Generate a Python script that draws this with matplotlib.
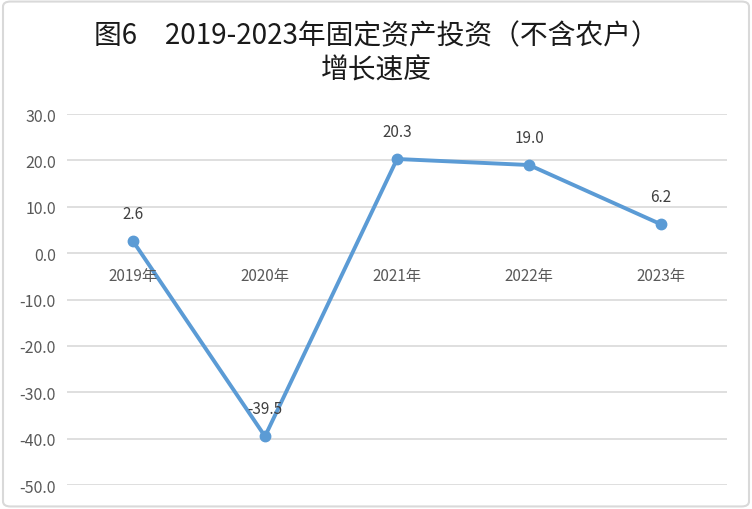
import matplotlib
matplotlib.use('Agg')
import matplotlib.pyplot as plt
from matplotlib.patches import FancyBboxPatch

plt.rcParams['font.family'] = ['Noto Sans CJK SC', 'DejaVu Sans']

years = ['2019年', '2020年', '2021年', '2022年', '2023年']
growth = [2.6, -39.5, 20.3, 19.0, 6.2]
yticks = [30, 20, 10, 0, -10, -20, -30, -40, -50]

fig = plt.figure(figsize=(7.52, 5.10), dpi=100)
ax = fig.add_axes([0.089, 0.047, 0.878, 0.7275])

x = list(range(len(years)))
ax.plot(x, growth, color='#5B9BD5', linewidth=2.8, marker='o', markersize=7.5, zorder=3)

for xi, v in zip(x, growth):
    ax.annotate('%.1f' % v, (xi, v), xytext=(0, 14), textcoords='offset points',
                ha='center', va='bottom', fontsize=11, color='#404040', zorder=4)

# category labels sit just under the zero line
for xi, lab in zip(x, years):
    ax.annotate(lab, (xi, 0), xytext=(0, -10), textcoords='offset points',
                ha='center', va='top', fontsize=11, color='#595959')

ax.set_xlim(-0.5, len(years) - 0.5)
ax.set_ylim(-50, 30)
ax.set_yticks(yticks)
ax.set_yticklabels(['%.1f' % t for t in yticks], fontsize=11.5, color='#595959')
ax.set_xticks([])
ax.grid(axis='y', color='#D9D9D9', linewidth=1.2)
ax.set_axisbelow(True)
ax.tick_params(axis='y', length=0, pad=8)
for s in ax.spines.values():
    s.set_visible(False)

fig.text(0.5, 0.929, '图6　2019-2023年固定资产投资（不含农户）', ha='center', va='center',
         fontsize=20, color='#1a1a1a')
fig.text(0.5, 0.862, '增长速度', ha='center', va='center', fontsize=20, color='#1a1a1a')

border = FancyBboxPatch((0.004, 0.005), 0.992, 0.99, boxstyle='round,pad=0,rounding_size=0.01',
                        transform=fig.transFigure, fill=False, edgecolor='#D9D9D9', linewidth=1.5)
fig.patches.append(border)

fig.savefig('out.png', dpi=100)
